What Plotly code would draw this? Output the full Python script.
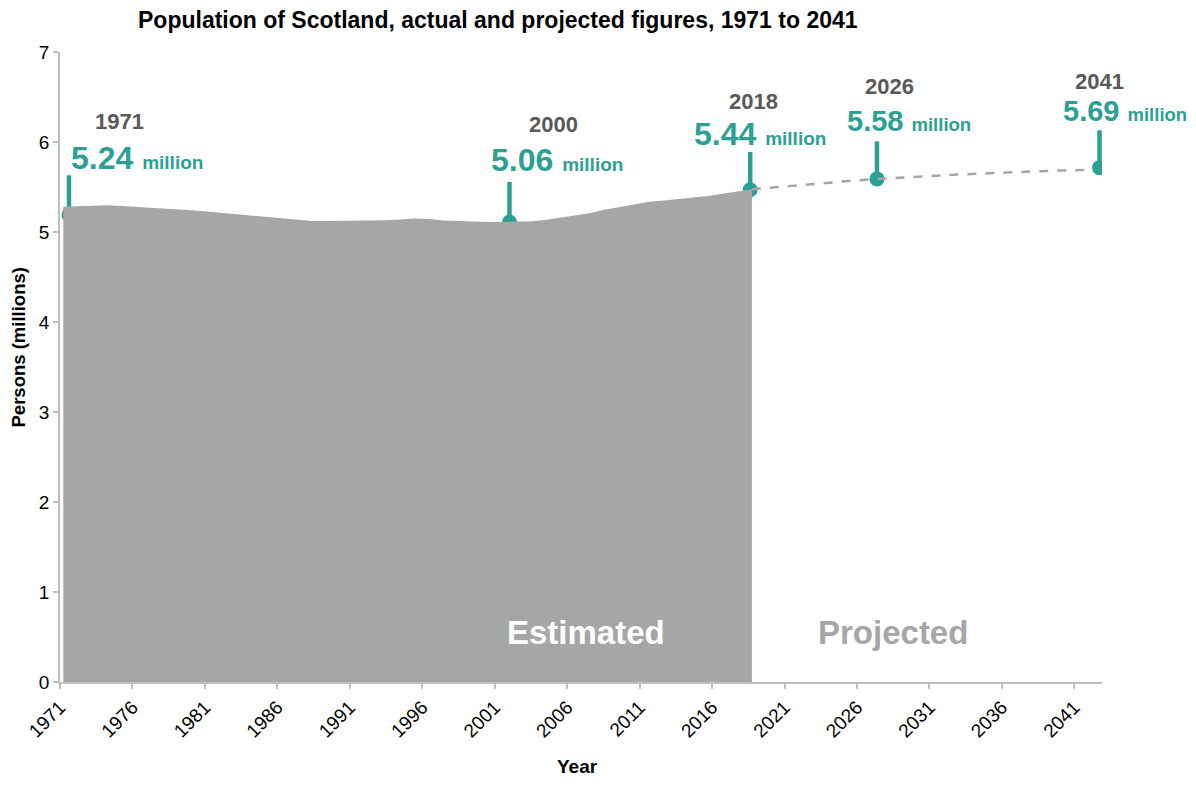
import plotly.graph_objects as go

# ---- data ----
est_years = list(range(1971, 2019))
est_values = [5.28, 5.285, 5.29, 5.297, 5.288, 5.28, 5.272, 5.262, 5.25, 5.24,
              5.225, 5.21, 5.197, 5.185, 5.165, 5.15, 5.135, 5.122, 5.122, 5.122,
              5.122, 5.122, 5.13, 5.14, 5.15, 5.145, 5.128, 5.122, 5.115, 5.111,
              5.111, 5.115, 5.12, 5.135, 5.16, 5.185, 5.21, 5.25, 5.28, 5.31,
              5.335, 5.35, 5.365, 5.38, 5.40, 5.425, 5.45, 5.475]

proj_years = list(range(2018, 2042))
proj_values = [5.475, 5.49, 5.505, 5.52, 5.535, 5.548, 5.56, 5.572, 5.583, 5.594,
               5.604, 5.613, 5.622, 5.63, 5.638, 5.646, 5.653, 5.66, 5.667, 5.673,
               5.678, 5.683, 5.687, 5.69]

call_years = ["1971", "2000", "2018", "2026", "2041"]
call_labels = ["5.24", "5.06", "5.44", "5.58", "5.69"]
call_marker_x = [1971.62, 2002.02, 2018.63, 2027.38, 2042.74]
call_marker_y = [5.19, 5.11, 5.47, 5.59, 5.715]
call_stem_top = [5.63, 5.556, 5.89, 6.008, 6.13]
call_year_x = [1975.14, 2005.03, 2018.84, 2028.23, 2042.72]
call_year_y = [6.23, 6.197, 6.45, 6.62, 6.67]
call_val_x = [1971.62, 2000.61, 2014.63, 2025.19, 2040.1]
call_val_y = [5.819, 5.797, 6.086, 6.23, 6.35]
call_val_size = [32, 32, 32, 29, 29]
call_unit_size = [19, 19, 19, 18.5, 18.5]

tick_years = list(range(1971, 2042, 5))

TEAL = "#2DA094"
GREY = "#A6A6A6"
FONT = "Liberation Sans, Arial, sans-serif"

fig = go.Figure()

# estimated area
fig.add_trace(go.Scatter(x=est_years, y=est_values, mode="lines", fill="tozeroy",
                         line=dict(color=GREY, width=0), fillcolor=GREY,
                         xaxis="x2", hoverinfo="skip", showlegend=False))
# projected dashed line
fig.add_trace(go.Scatter(x=proj_years, y=proj_values, mode="lines",
                         line=dict(color=GREY, width=2.5, dash="dash"),
                         xaxis="x2", hoverinfo="skip", showlegend=False))

# stems
sx, sy = [], []
for x, y0, y1 in zip(call_marker_x, call_marker_y, call_stem_top):
    sx += [x, x, None]
    sy += [y0, y1, None]
fig.add_trace(go.Scatter(x=sx, y=sy, mode="lines", line=dict(color=TEAL, width=4.5),
                         hoverinfo="skip", showlegend=False))
# markers
fig.add_trace(go.Scatter(x=call_marker_x, y=call_marker_y, mode="markers",
                         marker=dict(color=TEAL, size=15), hoverinfo="skip",
                         showlegend=False))

annotations = []
for yr, lab, yx, yy, vx, vy, vs, us in zip(call_years, call_labels, call_year_x, call_year_y,
                                            call_val_x, call_val_y, call_val_size,
                                            call_unit_size):
    annotations.append(dict(x=yx, y=yy, xref="x", yref="y", text=f"<b>{yr}</b>",
                            showarrow=False, xanchor="center", yanchor="middle",
                            font=dict(family=FONT, size=22, color="#595959")))
    annotations.append(dict(x=vx, y=vy, xref="x", yref="y",
                            text=f"<b><span style='font-size:{vs}px'>{lab}</span> "
                                 f"<span style='font-size:{us}px'>million</span></b>",
                            showarrow=False, xanchor="left", yanchor="middle",
                            font=dict(family=FONT, size=vs, color=TEAL)))

annotations.append(dict(x=2007.3, y=0.552, xref="x", yref="y", text="<b>Estimated</b>",
                        showarrow=False, xanchor="center", yanchor="middle",
                        font=dict(family=FONT, size=33, color="white")))
annotations.append(dict(x=2028.5, y=0.552, xref="x", yref="y", text="<b>Projected</b>",
                        showarrow=False, xanchor="center", yanchor="middle",
                        font=dict(family=FONT, size=33, color=GREY)))
annotations.append(dict(x=-0.0403, y=0.531, xref="paper", yref="paper",
                        text="<b>Persons (millions)</b>", textangle=-90, showarrow=False,
                        xanchor="center", yanchor="middle",
                        font=dict(family=FONT, size=18.5, color="black")))
annotations.append(dict(x=0.4963, y=-0.1345, xref="paper", yref="paper",
                        text="<b>Year</b>", showarrow=False,
                        xanchor="center", yanchor="middle",
                        font=dict(family=FONT, size=19, color="black")))

# the page body has an 8px margin; figure is sized so its plot area lands
# at page pixels x 60..1101.7, y 51.7..681.7
W, H = 1188, 770
fig.update_layout(
    width=W, height=H,
    margin=dict(l=52, r=94.3, t=43.7, b=96.3, autoexpand=False),
    paper_bgcolor="white", plot_bgcolor="white",
    title=dict(text="<b>Population of Scotland, actual and projected figures, 1971 to 2041</b>",
               x=130 / W, xanchor="left", xref="container",
               y=1 - 12 / H, yanchor="middle", yref="container",
               font=dict(family=FONT, size=23, color="black")),
    xaxis=dict(range=[1971, 2042.91], tickmode="array", tickvals=tick_years,
               ticktext=[str(t) for t in tick_years], tickangle=-45,
               ticks="outside", ticklen=5, tickcolor="#BFBFBF", tickwidth=1.5,
               showline=True, linecolor="#BFBFBF", linewidth=1.5,
               showgrid=False, zeroline=False,
               tickfont=dict(family=FONT, size=19, color="black")),
    xaxis2=dict(range=[1970.775, 2041.895], overlaying="x", visible=False,
                showgrid=False, zeroline=False),
    yaxis=dict(range=[0, 7], tickvals=list(range(0, 8)), ticks="outside", ticklen=5,
               tickcolor="#BFBFBF", tickwidth=1.5, showline=True, linecolor="#BFBFBF",
               linewidth=1.5, showgrid=False, zeroline=False,
               tickfont=dict(family=FONT, size=19, color="black")),
    annotations=annotations,
    showlegend=False,
)

fig.write_html("out.html")
